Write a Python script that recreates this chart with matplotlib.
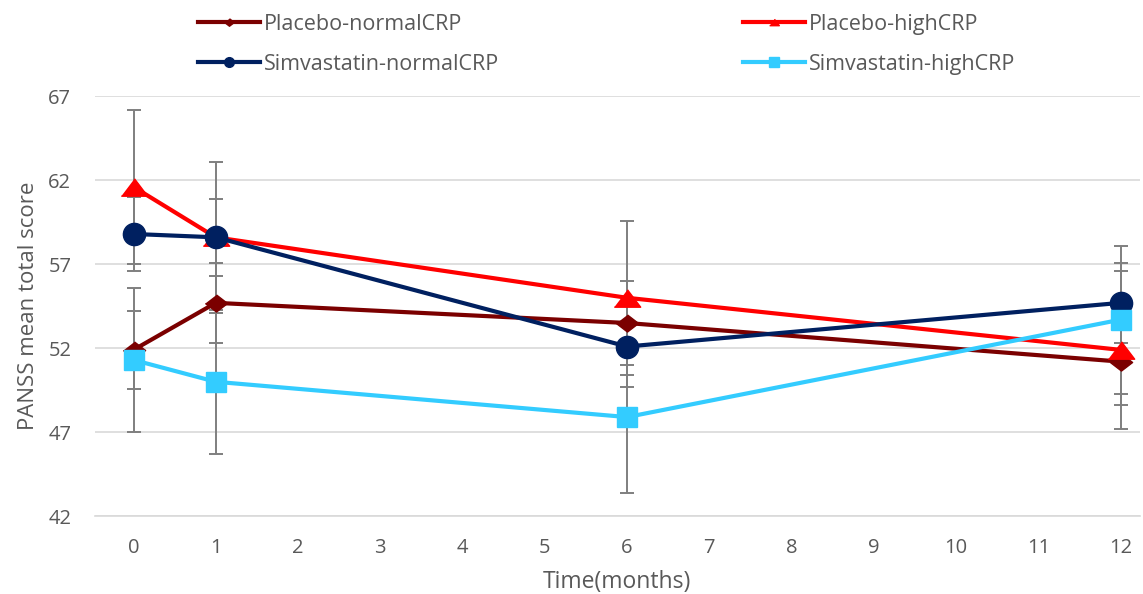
import matplotlib.pyplot as plt
from matplotlib.lines import Line2D

plt.rcParams['font.family'] = ['Open Sans', 'DejaVu Sans']

# time points (months)
months = [0, 1, 6, 12]

# PANSS mean total score per group
placebo_normal = [51.9, 54.7, 53.5, 51.2]
placebo_high = [61.6, 58.6, 55.0, 51.9]
simva_normal = [58.8, 58.6, 52.1, 54.7]
simva_high = [51.3, 50.0, 47.9, 53.7]

# error bar sizes (symmetric)
placebo_normal_err = [2.3, 2.4, 2.5, 2.6]
placebo_high_err = [4.6, 4.5, 4.6, 4.7]
simva_normal_err = [2.2, 2.3, 2.4, 2.4]
simva_high_err = [4.3, 4.3, 4.5, 4.4]

labels = ['Placebo-normalCRP', 'Placebo-highCRP',
          'Simvastatin-normalCRP', 'Simvastatin-highCRP']

# flatter excel-like markers
diamond = [(0, 0.77), (1, 0), (0, -0.77), (-1, 0)]
triangle = [(0, 0.66), (1, -0.66), (-1, -0.66)]

fig = plt.figure(figsize=(11.43, 5.94), dpi=100)
ax = fig.add_axes([0.083, 0.131, 0.914, 0.707])

series = [
    (placebo_normal, placebo_normal_err, '#7B0000', diamond, 16),
    (placebo_high, placebo_high_err, '#FF0000', triangle, 19),
    (simva_normal, simva_normal_err, '#002060', 'o', 16),
    (simva_high, simva_high_err, '#33CCFF', 's', 15),
]

for (y, err, col, mk, ms), lab in zip(series, labels):
    ax.errorbar(months, y, yerr=err, fmt='none', ecolor='#7f7f7f',
                elinewidth=1.4, capsize=5, capthick=1.4, zorder=2)
    ax.plot(months, y, color=col, lw=3.0, marker=mk, ms=ms,
            label=lab, zorder=3)

ax.set_xlim(-0.47, 12.23)
ax.set_ylim(42, 67)
ax.set_yticks([42, 47, 52, 57, 62, 67])
ax.set_xticks(range(0, 13))
ax.grid(axis='y', color='#d9d9d9', lw=1.2)
ax.set_axisbelow(True)
for s in ['top', 'right', 'left']:
    ax.spines[s].set_visible(False)
ax.spines['bottom'].set_color('#d9d9d9')
ax.spines['bottom'].set_linewidth(1.2)
ax.tick_params(axis='y', length=0, labelsize=14.5, colors='#595959', pad=17)
ax.tick_params(axis='x', length=0, labelsize=14.5, colors='#595959', pad=16)
ax.set_xlabel('Time(months)', fontsize=16.5, color='#595959', labelpad=8)
ax.set_ylabel('PANSS mean total score', fontsize=16, color='#595959',
              labelpad=7)

# legend: two columns placed separately, small markers on the handles
leg_handles = [Line2D([], [], color=c, lw=3.0, marker=m, ms=7)
               for (_, _, c, m, _) in series]
for idx, x0 in [([0, 2], 198 / 1143), ([1, 3], 743 / 1143)]:
    fig.legend([leg_handles[i] for i in idx], [labels[i] for i in idx],
               loc='upper left', bbox_to_anchor=(x0, 1 - 14 / 594),
               frameon=False, fontsize=15.5, labelcolor='#595959',
               handlelength=2.9, handletextpad=0.15, borderpad=0,
               borderaxespad=0, labelspacing=0.87)

fig.savefig('out.png', dpi=100)
